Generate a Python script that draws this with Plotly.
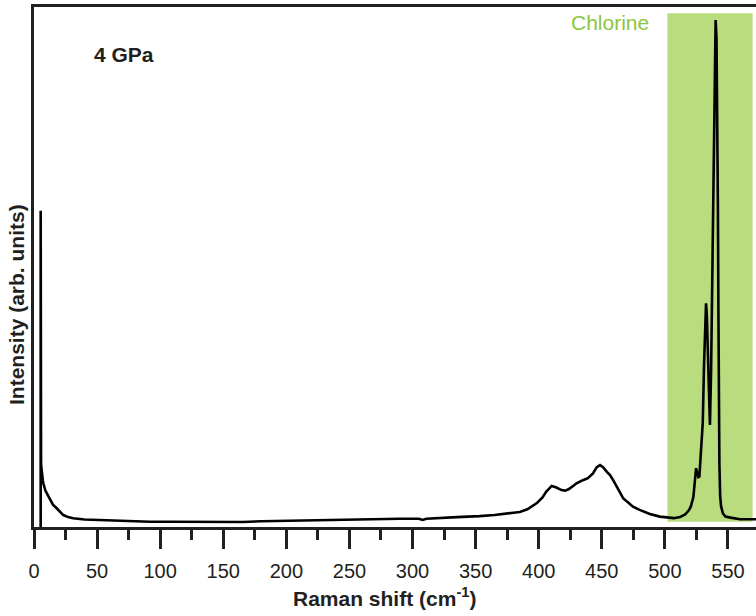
import plotly.graph_objects as go

# Raman spectrum at 4 GPa (arbitrary intensity units 0-100)
raman_shift = [
    5.3, 5.3, 5.6, 7.0, 7.4, 9.0, 11.0, 12.7, 15.0, 18.0, 21.0, 23.2, 27.0, 31.0,
    40.0, 50.0, 60.0, 76.0, 92.0, 110.0, 130.0, 150.0, 165.0, 180.0, 200.0, 220.0,
    240.0, 260.0, 274.0, 290.0, 305.0, 308.0, 311.0, 320.0, 335.0, 353.0, 365.0,
    380.0, 385.0, 391.0, 398.5, 403.0, 406.0, 410.3, 414.0, 418.0, 421.0, 424.0,
    430.0, 435.0, 439.0, 443.0, 446.0, 448.6, 451.0, 454.0, 456.5, 459.0, 462.0,
    464.4, 467.0, 470.0, 474.7, 480.0, 488.0, 496.0, 502.0, 507.0, 512.0, 516.0,
    519.0, 520.5, 522.6, 523.8, 524.7, 525.6, 526.5, 527.3, 528.3, 529.2, 530.0,
    531.0, 532.0, 532.6, 533.2, 534.0, 534.8, 535.7, 536.6, 537.3, 538.0, 538.7,
    539.4, 540.2, 540.9, 541.5, 542.0, 542.4, 542.8, 543.2, 543.8, 544.5, 546.0,
    548.0, 552.0, 559.5, 566.0, 573.0,
]
intensity = [
    0.0, 60.8, 12.0, 9.0, 8.4, 7.0, 6.0, 5.2, 4.3, 3.6, 2.8, 2.3, 1.9, 1.67,
    1.45, 1.35, 1.2, 1.05, 1.0, 1.0, 1.0, 1.0, 0.95, 1.1, 1.2, 1.25,
    1.35, 1.45, 1.6, 1.6, 1.6, 1.35, 1.6, 1.75, 1.9, 2.1, 2.3,
    2.75, 2.9, 3.4, 4.6, 5.7, 6.8, 7.9, 7.6, 7.1, 7.0, 7.3,
    8.4, 9.0, 9.4, 10.3, 11.5, 11.9, 11.5, 10.6, 10.0, 9.0, 7.6,
    6.5, 5.5, 4.9, 3.9, 3.3, 2.5, 2.0, 1.8, 1.7, 1.9, 2.4,
    3.2, 3.9, 5.8, 9.0, 11.3, 10.4, 9.6, 9.7, 13.0, 17.0, 20.0,
    31.0, 40.0, 43.0, 41.0, 33.0, 25.0, 19.6, 30.0, 45.0, 62.0, 78.0,
    90.0, 97.5, 94.0, 82.0, 62.0, 42.0, 24.0, 12.0, 6.0, 4.0, 2.6,
    2.0, 1.8, 1.5, 1.5, 1.5,
]

x_ticks = [0, 50, 100, 150, 200, 250, 300, 350, 400, 450, 500, 550]
chlorine_band = [502.0, 569.5]

FONT = "Liberation Sans, Arial, Helvetica, sans-serif"
AXIS_COLOR = "#231f20"

fig = go.Figure()
fig.add_trace(go.Scatter(
    x=raman_shift, y=intensity, mode="lines",
    line=dict(color="#000000", width=2.6),
    showlegend=False, hoverinfo="skip",
))

fig.add_shape(
    type="rect", xref="x", yref="y",
    x0=chlorine_band[0], x1=chlorine_band[1], y0=1.0, y1=98.8,
    fillcolor="#b8dc7e", line=dict(width=0), layer="below",
)

fig.add_annotation(x=456.5, y=97.1, xref="x", yref="y", text="Chlorine",
                   xanchor="center", yanchor="middle",
                   showarrow=False, font=dict(family=FONT, size=21, color="#8cc63f"))
fig.add_annotation(x=71.3, y=90.8, xref="x", yref="y", text="<b>4 GPa</b>",
                   xanchor="center", yanchor="middle",
                   showarrow=False, font=dict(family=FONT, size=21, color="#231f20"))

# axis titles
fig.add_annotation(x=0.486, y=-0.1346, xref="paper", yref="paper",
                   xanchor="center", yanchor="middle",
                   text="<b>Raman shift (cm<sup>-1</sup>)</b>", showarrow=False,
                   font=dict(family=FONT, size=21, color="#231f20"))
fig.add_annotation(x=-0.0235, y=0.427, xref="paper", yref="paper",
                   xanchor="center", yanchor="middle",
                   text="<b>Intensity (arb. units)</b>", showarrow=False, textangle=-90,
                   font=dict(family=FONT, size=21, color="#231f20"))

fig.update_xaxes(
    range=[0, 572.2], tickmode="array", tickvals=x_ticks,
    ticktext=[str(v) for v in x_ticks],
    ticks="outside", ticklen=19, tickwidth=2.5, tickcolor=AXIS_COLOR,
    minor=dict(dtick=25, tick0=0, ticks="outside", ticklen=10, tickwidth=2.5,
               tickcolor=AXIS_COLOR, showgrid=False),
    showline=True, linecolor=AXIS_COLOR, linewidth=2.5, mirror=True,
    showgrid=False, zeroline=False, automargin=False,
    tickfont=dict(family=FONT, size=20, color="#231f20"),
    ticklabelstandoff=5,
)
fig.update_yaxes(
    range=[0, 100], showticklabels=False, ticks="",
    showline=True, linecolor=AXIS_COLOR, linewidth=2.5, mirror=False,
    showgrid=False, zeroline=False, automargin=False,
)

fig.update_layout(
    width=756, height=616,
    margin=dict(l=34, r=0, t=7, b=89, pad=0, autoexpand=False),
    paper_bgcolor="white", plot_bgcolor="white",
    font=dict(family=FONT),
)

fig.write_html(
    "out.html",
    config={"displayModeBar": False},
    post_script="document.body.style.margin='0px';document.body.style.overflow='hidden';",
)
